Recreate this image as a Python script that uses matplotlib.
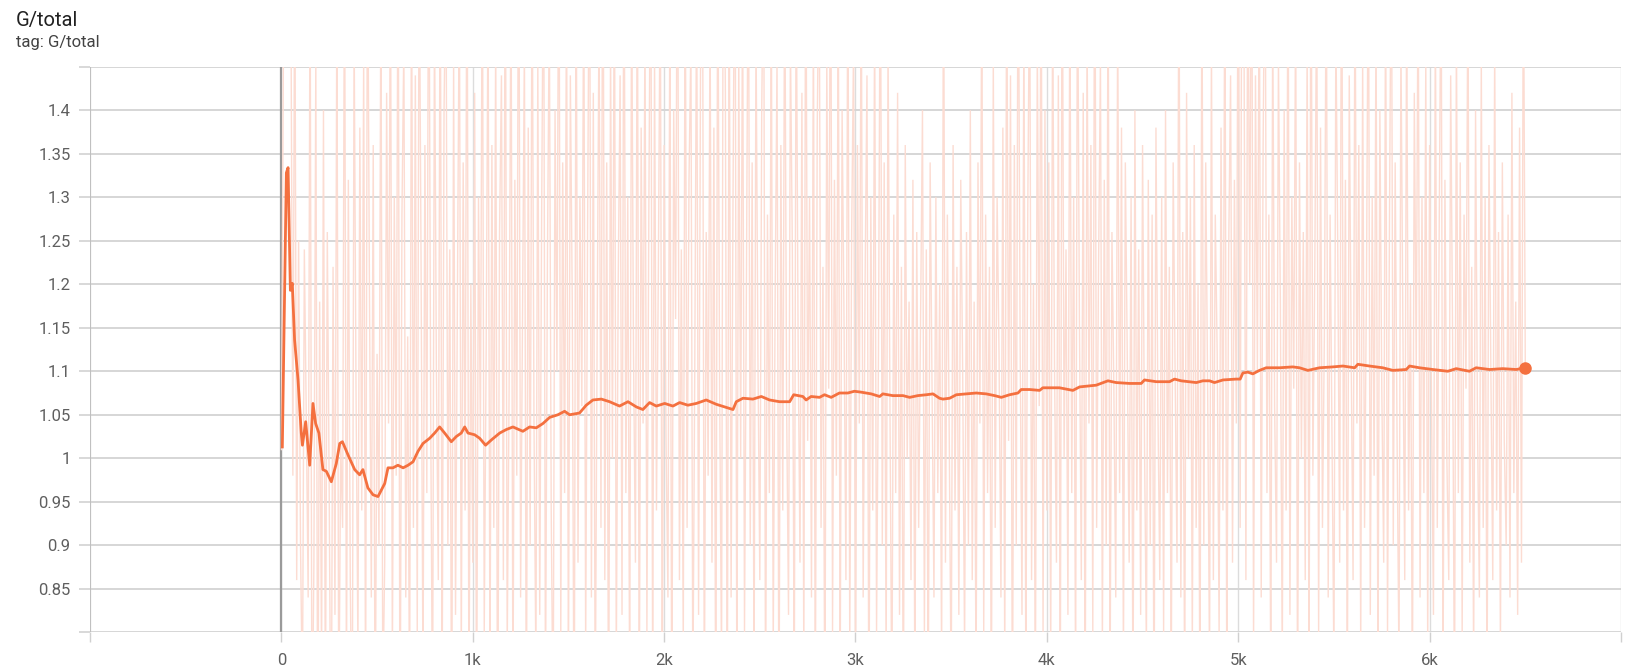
import matplotlib
matplotlib.use("Agg")
import matplotlib.pyplot as plt
from matplotlib.patches import Circle

# ---------------- data ----------------
raw_step_interval = 10
raw_values = [
    1.01, 1.45, 1.82, 1.70, 1.66, 1.52, 0.98, 1.60, 0.86, 1.25,
    0.90, 0.72, 1.24, 1.05, 0.84, 1.58, 0.66, 0.88, 1.46, 0.62,
    1.18, 0.76, 1.40, 0.70, 1.26, 0.96, 0.60, 1.22, 0.82, 1.54,
    0.68, 1.02, 0.92, 1.62, 0.74, 1.32, 0.86, 0.64, 1.50, 1.08,
    0.78, 1.38, 0.94, 1.46, 0.70, 1.64, 1.20, 0.84, 1.36, 0.66,
    1.12, 0.90, 1.56, 0.72, 0.88, 1.42, 1.04, 1.60, 0.76, 1.30,
    0.98, 1.66, 0.62, 1.28, 1.48, 0.84, 1.14, 0.70, 1.58, 0.92,
    1.44, 0.80, 1.62, 1.22, 0.74, 1.36, 0.96, 1.70, 1.06, 0.68,
    1.52, 1.10, 0.86, 1.64, 0.72, 1.40, 1.58, 0.90, 1.24, 0.64,
    1.46, 0.82, 1.18, 1.56, 0.76, 1.34, 0.94, 1.68, 0.70, 1.20,
    0.88, 1.42, 0.66, 1.30, 1.02, 1.62, 0.80, 1.12, 1.54, 0.74,
    1.36, 0.92, 1.50, 0.60, 1.26, 1.44, 0.86, 1.66, 0.78, 1.08,
    1.58, 0.70, 1.32, 0.98, 1.72, 0.84, 1.16, 1.48, 0.66, 1.38,
    0.90, 1.60, 1.04, 0.76, 1.46, 0.82, 1.28, 1.64, 0.72, 1.22,
    1.52, 0.94, 0.68, 1.40, 1.10, 1.70, 0.80, 1.34, 0.96, 1.56,
    0.74, 1.44, 1.18, 0.62, 1.62, 0.88, 1.30, 1.06, 1.58, 0.78,
    1.26, 1.66, 0.84, 1.42, 0.70, 1.14, 1.52, 0.92, 1.74, 0.86,
    1.34, 0.64, 1.48, 1.00, 1.60, 0.76, 1.20, 1.44, 0.82, 1.68,
    0.96, 1.30, 0.72, 1.56, 1.12, 0.88, 1.62, 0.68, 1.38, 1.04,
    1.50, 0.80, 1.28, 1.66, 0.74, 1.46, 0.94, 1.22, 1.58, 0.70,
    1.36, 1.02, 0.84, 1.54, 0.66, 1.40, 1.16, 1.70, 0.86, 1.24,
    0.78, 1.60, 0.92, 1.32, 1.48, 0.72, 1.10, 1.56, 0.82, 1.44,
    1.66, 0.70, 1.26, 0.98, 1.52, 0.88, 1.38, 0.64, 1.62, 1.08,
    0.76, 1.74, 1.42, 0.68, 1.58, 0.84, 1.30, 1.68, 0.72, 1.46,
    1.00, 1.56, 0.80, 1.20, 1.64, 0.90, 1.34, 0.74, 1.50, 1.12,
    0.86, 1.40, 1.62, 0.70, 1.28, 0.96, 1.54, 0.78, 1.18, 1.46,
    0.66, 1.36, 0.94, 1.60, 1.06, 0.82, 1.48, 1.24, 0.72, 1.58,
    1.14, 0.88, 1.42, 0.76, 1.66, 1.02, 1.30, 0.84, 1.52, 0.70,
    1.38, 1.60, 0.92, 1.22, 0.68, 1.46, 1.08, 1.70, 0.80, 1.32,
    0.98, 1.54, 0.74, 1.40, 1.16, 0.86, 1.62, 0.78, 1.26, 1.48,
    0.72, 1.36, 1.04, 1.58, 0.84, 1.20, 1.44, 0.66, 1.30, 0.94,
    1.52, 0.80, 1.12, 1.64, 0.90, 1.34, 0.76, 1.48, 1.06, 0.70,
    1.28, 0.96, 1.42, 0.82, 1.22, 0.68, 1.36, 1.00, 1.18, 0.86,
    1.32, 0.74, 1.26, 0.92, 1.16, 1.40, 0.80, 1.24, 0.70, 1.34,
    1.08, 0.84, 1.30, 0.96, 1.20, 0.76, 1.62, 0.88, 1.28, 1.02,
    0.72, 1.36, 0.94, 1.22, 0.82, 1.32, 1.10, 0.78, 1.26, 0.90,
    1.40, 0.86, 1.18, 0.74, 1.34, 1.04, 1.56, 0.80, 1.28, 0.96,
    1.22, 0.70, 1.46, 0.92, 1.30, 1.12, 0.84, 1.38, 0.76, 1.60,
    1.02, 1.44, 0.66, 1.36, 0.90, 1.66, 1.14, 0.82, 1.52, 0.74,
    1.28, 1.58, 0.86, 1.20, 0.72, 1.48, 1.06, 1.62, 0.80, 1.40,
    0.94, 1.34, 0.76, 1.54, 1.10, 0.88, 1.44, 0.70, 1.66, 1.00,
    1.24, 0.82, 1.56, 0.96, 1.30, 0.74, 1.60, 1.16, 0.86, 1.42,
    0.68, 1.50, 1.04, 1.36, 0.80, 1.70, 0.92, 1.22, 1.46, 0.78,
    1.32, 0.90, 1.58, 0.72, 1.26, 1.08, 0.84, 1.52, 0.96, 1.38,
    0.76, 1.34, 1.12, 0.88, 1.30, 0.70, 1.40, 0.94, 1.24, 0.82,
    1.36, 1.02, 0.78, 1.32, 0.90, 1.28, 0.68, 1.38, 1.06, 0.86,
    1.30, 0.80, 1.40, 0.96, 1.22, 0.74, 1.34, 1.10, 0.88, 1.62,
    0.84, 1.26, 0.72, 1.42, 1.00, 1.30, 0.78, 1.36, 0.92, 1.20,
    0.70, 1.58, 0.90, 1.34, 1.08, 0.76, 1.48, 0.86, 1.28, 1.12,
    0.80, 1.38, 0.94, 1.60, 0.74, 1.24, 1.44, 0.88, 1.32, 1.04,
    1.66, 0.92, 1.74, 1.50, 0.86, 1.62, 1.20, 1.70, 0.78, 1.44,
    1.10, 1.58, 0.84, 1.36, 1.64, 0.96, 1.28, 0.72, 1.52, 1.06,
    0.88, 1.46, 1.18, 0.76, 1.40, 0.94, 1.62, 0.82, 1.30, 1.08,
    1.54, 0.70, 1.34, 1.00, 1.26, 0.86, 1.48, 0.74, 1.66, 0.98,
    1.22, 1.56, 0.80, 1.38, 0.92, 1.14, 1.60, 0.84, 1.28, 1.02,
    0.76, 1.50, 1.24, 0.88, 1.68, 0.94, 1.32, 0.72, 1.44, 1.12,
    0.86, 1.58, 1.04, 1.36, 0.78, 1.46, 0.92, 1.20, 1.62, 0.82,
    1.30, 0.98, 1.52, 0.74, 1.40, 1.08, 0.88, 1.56, 0.80, 1.26,
    1.64, 0.90, 1.34, 1.02, 0.76, 1.48, 1.16, 0.86, 1.54, 0.94,
    1.20, 0.72, 1.42, 1.10, 1.58, 0.84, 1.30, 0.96, 1.46, 0.78,
    1.36, 1.06, 0.82, 1.52, 0.92, 1.26, 1.60, 0.74, 1.32, 1.00,
    0.86, 1.44, 1.14, 0.70, 1.50, 0.96, 1.34, 0.80, 1.28, 1.08,
    1.56, 0.88, 1.22, 0.76, 1.40, 1.04, 0.84, 1.46, 0.92, 1.30,
    0.72, 1.36, 1.10, 0.86, 1.48, 0.94, 1.26, 0.78, 1.34, 1.02,
    0.90, 1.28, 0.84, 1.42, 0.96, 1.18, 0.82, 1.38, 0.88, 1.60,
    1.10,
]
raw_steps = [i * raw_step_interval for i in range(len(raw_values))]

smooth_steps = [
    5, 26, 35, 47, 57, 69, 87, 104, 110, 127, 148, 165, 179, 196, 217, 235,
    261, 287, 305, 319, 348, 383, 409, 426, 452, 479, 505, 540, 557, 583,
    609, 636, 662, 688, 714, 740, 775, 801, 827, 853, 888, 914, 940, 958,
    975, 1010, 1036, 1067, 1097, 1141, 1175, 1210, 1262, 1297, 1332, 1367,
    1402, 1445, 1480, 1506, 1558, 1593, 1628, 1672, 1715, 1767, 1811, 1855,
    1889, 1924, 1959, 2003, 2046, 2081, 2124, 2168, 2220, 2273, 2316, 2360,
    2377, 2412, 2464, 2508, 2551, 2603, 2656, 2677, 2725, 2742, 2768, 2812,
    2838, 2873, 2916, 2960, 2994, 3029, 3082, 3126, 3143, 3195, 3248, 3283,
    3326, 3370, 3405, 3439, 3457, 3492, 3527, 3579, 3631, 3683, 3727, 3762,
    3805, 3849, 3866, 3910, 3962, 3979, 4066, 4136, 4171, 4258, 4319, 4362,
    4432, 4493, 4510, 4572, 4641, 4667, 4702, 4781, 4815, 4850, 4876, 4920,
    4989, 5010, 5024, 5050, 5076, 5111, 5146, 5216, 5285, 5320, 5364, 5425,
    5494, 5547, 5608, 5625, 5686, 5755, 5808, 5878, 5895, 5947, 6017, 6095,
    6139, 6208, 6243, 6313, 6382, 6452, 6500,
]
smooth_values = [
    1.013, 1.328, 1.334, 1.193, 1.201, 1.136, 1.090, 1.029, 1.015, 1.042,
    0.992, 1.063, 1.040, 1.029, 0.987, 0.985, 0.973, 0.994, 1.017, 1.019,
    1.004, 0.987, 0.981, 0.987, 0.966, 0.958, 0.956, 0.971, 0.989, 0.989,
    0.992, 0.989, 0.992, 0.996, 1.008, 1.017, 1.023, 1.029, 1.036, 1.029,
    1.019, 1.025, 1.029, 1.036, 1.029, 1.027, 1.023, 1.015, 1.021, 1.029,
    1.033, 1.036, 1.031, 1.036, 1.035, 1.040, 1.047, 1.050, 1.054, 1.050,
    1.052, 1.061, 1.067, 1.068, 1.065, 1.060, 1.065, 1.059, 1.056, 1.064,
    1.060, 1.063, 1.060, 1.064, 1.061, 1.063, 1.067, 1.062, 1.059, 1.056,
    1.065, 1.069, 1.068, 1.071, 1.067, 1.065, 1.065, 1.073, 1.071, 1.067,
    1.071, 1.070, 1.073, 1.070, 1.075, 1.075, 1.077, 1.076, 1.074, 1.071,
    1.074, 1.072, 1.072, 1.070, 1.072, 1.073, 1.074, 1.069, 1.068, 1.069,
    1.073, 1.074, 1.075, 1.074, 1.072, 1.070, 1.073, 1.075, 1.079, 1.079,
    1.078, 1.081, 1.081, 1.078, 1.082, 1.084, 1.089, 1.087, 1.086, 1.086,
    1.090, 1.088, 1.088, 1.091, 1.089, 1.087, 1.089, 1.089, 1.087, 1.090,
    1.091, 1.091, 1.098, 1.099, 1.097, 1.101, 1.104, 1.104, 1.105, 1.104,
    1.101, 1.104, 1.105, 1.106, 1.104, 1.108, 1.106, 1.104, 1.101, 1.102,
    1.106, 1.104, 1.102, 1.100, 1.103, 1.100, 1.104, 1.102, 1.103, 1.102,
    1.104,
]

x_ticks = [-1000, 0, 1000, 2000, 3000, 4000, 5000, 6000, 7000]
x_tick_labels = ["", "0", "1k", "2k", "3k", "4k", "5k", "6k", ""]
y_ticks = [0.80, 0.85, 0.90, 0.95, 1.00, 1.05, 1.10, 1.15, 1.20, 1.25,
           1.30, 1.35, 1.40, 1.45]
y_tick_labels = ["", "0.85", "0.9", "0.95", "1", "1.05", "1.1", "1.15",
                 "1.2", "1.25", "1.3", "1.35", "1.4", ""]

title = "G/total"
subtitle = "tag: G/total"

# ---------------- figure ----------------
W, H = 1633, 668
fig = plt.figure(figsize=(W / 100, H / 100), dpi=100)
plt.rcParams["font.family"] = ["Roboto", "DejaVu Sans"]

ax = fig.add_axes([90 / W, 1 - 632.3 / H, (1621 - 90) / W, (632.3 - 66.7) / H])
ax.set_xlim(-1000, 7000)
ax.set_ylim(0.80, 1.45)

for s in ax.spines.values():
    s.set_visible(False)

ax.set_xticks(x_ticks)
ax.set_xticklabels(x_tick_labels)
ax.set_yticks(y_ticks)
ax.set_yticklabels(y_tick_labels)
ax.tick_params(axis="x", length=7, width=1, color="#d0d0d0", pad=8,
               labelsize=12, labelcolor="#5f5f5f")
ax.tick_params(axis="y", length=8, width=1.3, color="#d6d6d6", pad=6,
               labelsize=12, labelcolor="#5f5f5f")

ax.grid(axis="y", color="#d6d6d6", linewidth=1.4)
ax.grid(axis="x", color="#dcdcdc", linewidth=1.0)
ax.set_axisbelow(True)

# darker line at the left edge and at x = 0
ax.axvline(-1000, color="#bdbdbd", linewidth=1.3, zorder=1)
ax.axvline(0, color="#9a9a9a", linewidth=1.6, zorder=1)

ax.plot(raw_steps, raw_values, color="#fcdcd2", linewidth=1.0, zorder=2,
        solid_joinstyle="miter")
ax.plot(smooth_steps, smooth_values, color="#f4703f", linewidth=2.0, zorder=3,
        solid_joinstyle="round")
ax.plot([smooth_steps[-1]], [smooth_values[-1]], "o", color="#f4703f",
        markersize=8, zorder=4, clip_on=False)

fig.text(16 / W, 1 - 26 / H, title, fontsize=14.5, color="#212121",
         va="baseline", ha="left")
fig.text(16 / W, 1 - 46.7 / H, subtitle, fontsize=12, color="#424242",
         va="baseline", ha="left")

# partially visible icon at bottom-left
fig.patches.append(Circle((40 / W, 1 - 676 / H), 9 / W, transform=fig.transFigure,
                          fill=False, edgecolor="#bdbdbd", linewidth=1.2))

fig.savefig("out.png", dpi=100)
